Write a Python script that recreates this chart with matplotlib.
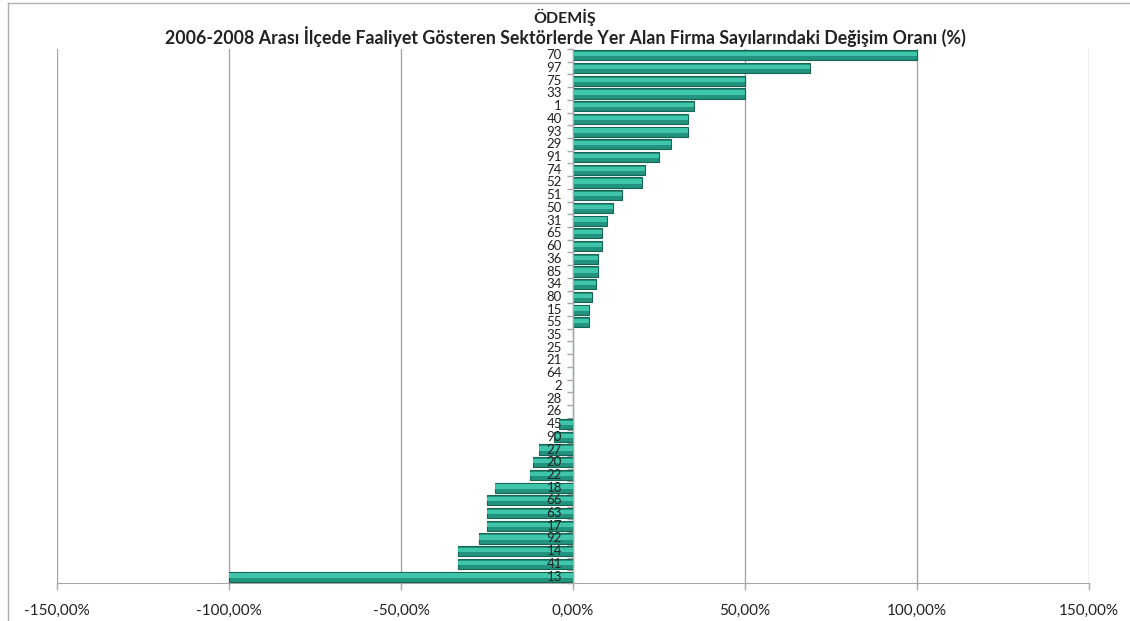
import matplotlib.pyplot as plt
from matplotlib.lines import Line2D
from matplotlib.ticker import FuncFormatter, FixedLocator

sectors = ['70', '97', '75', '33', '1', '40', '93', '29', '91', '74', '52',
           '51', '50', '31', '65', '60', '36', '85', '34', '80', '15', '55',
           '35', '25', '21', '64', '2', '28', '26', '45', '90', '27', '20',
           '22', '18', '66', '63', '17', '92', '14', '41', '13']
change = [100.0, 68.75, 50.0, 50.0, 35.29, 33.33, 33.33, 28.57, 25.0, 21.05,
          20.0, 14.29, 11.54, 10.0, 8.33, 8.33, 7.14, 7.14, 6.67, 5.56, 4.55,
          4.55, 0, 0, 0, 0, 0, 0, 0, -4.17, -5.56, -10.0, -11.54, -12.5,
          -22.73, -25.0, -25.0, -25.0, -27.27, -33.33, -33.33, -100.0]
xticks = [-150, -100, -50, 0, 50, 100, 150]

plt.rcParams['font.family'] = ['Lato', 'DejaVu Sans']

fig = plt.figure(figsize=(11.3, 6.21), dpi=100)
ax = fig.add_axes([57 / 1130, 1 - 583 / 621, 1032 / 1130, 534 / 621])

pos = list(range(len(sectors)))
h = 0.8
ax.barh(pos, change, height=h, color='#22937e', edgecolor='#176454', linewidth=0.8, zorder=3)
# lighter upper band for the bevel look
ax.barh([p - h * 0.1 for p in pos], change, height=h * 0.42, color='#3fc6aa',
        linewidth=0, zorder=4)

ax.set_xlim(-150, 150)
ax.set_ylim(len(sectors) - 0.5, -0.5)
ax.set_xticks(xticks)
ax.xaxis.set_major_formatter(FuncFormatter(lambda v, _: f'{v:.2f}%'.replace('.', ',')))
ax.grid(axis='x', color='#a6a6a6', linewidth=1, zorder=0)

# category labels drawn on top of the bars, just left of the zero line
ax.set_yticks([])
for p, s in zip(pos, sectors):
    ax.annotate(s, xy=(0, p), xytext=(-8, 0), textcoords='offset points',
                ha='right', va='center', fontsize=9.5, color='#222222', zorder=6)
ax.yaxis.set_minor_locator(FixedLocator([p + 0.5 for p in range(-1, len(sectors))]))
ax.tick_params(axis='y', which='minor', length=4, color='#a6a6a6', width=1)
ax.tick_params(axis='x', length=5, color='#a6a6a6', width=1, labelsize=11, pad=10,
               labelcolor='#222222')

ax.spines['left'].set_position(('data', 0))
ax.spines['left'].set_color('#a6a6a6')
ax.spines['left'].set_zorder(5)
ax.spines['bottom'].set_color('#a6a6a6')
ax.spines['top'].set_visible(False)
ax.spines['right'].set_visible(False)

fig.text(0.5, 1 - 17 / 621, 'ÖDEMİŞ', ha='center', va='center', fontsize=11.5,
         fontweight='bold', color='#222222')
fig.text(0.5, 1 - 37 / 621,
         '2006-2008 Arası İlçede Faaliyet Gösteren Sektörlerde Yer Alan Firma Sayılarındaki Değişim Oranı (%)',
         ha='center', va='center', fontsize=12.8, fontweight='bold', color='#222222')

# outer chart frame
fig.add_artist(Line2D([8 / 1130, 8 / 1130], [0, 1 - 3 / 621], color='#b0b0b0', linewidth=1))
fig.add_artist(Line2D([8 / 1130, 1], [1 - 3 / 621, 1 - 3 / 621], color='#b0b0b0', linewidth=1))

fig.savefig('out.png', dpi=100)
